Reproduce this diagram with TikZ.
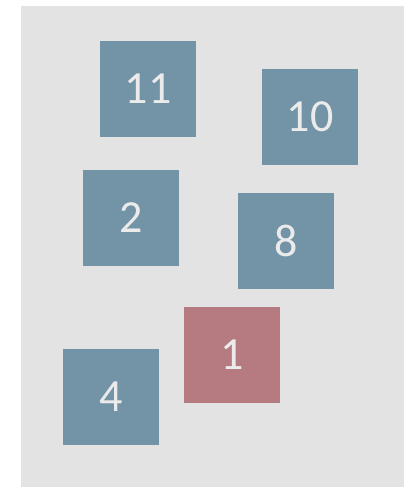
\documentclass[tikz,border=0pt]{standalone}
\usepackage{fontspec}
\setmainfont{Carlito}
\definecolor{bgc}{HTML}{E3E3E3}
\definecolor{bluec}{HTML}{7393A7}
\definecolor{redc}{HTML}{B67B80}
\definecolor{txtc}{HTML}{EBEBEB}
\begin{document}
\begin{tikzpicture}[x=1pt,y=-1pt,
  sq/.style={fill=bluec,draw=none,minimum width=96pt,minimum height=96pt,inner sep=0pt,text=txtc,font=\fontsize{46}{50}\selectfont},
  hl/.style={sq,fill=redc}]
\useasboundingbox (0,0) rectangle (404,487);
\fill[bgc] (21,6) rectangle (404,487);
\node[sq] (n11) at (148,89) {\raisebox{-2pt}{11}};
\node[sq] (n10) at (310,117) {\raisebox{-2pt}{10}};
\node[sq] (n2) at (131,218) {\raisebox{-2pt}{2}};
\node[sq] (n8) at (286,241) {\raisebox{-2pt}{8}};
\node[hl] (n1) at (232,355) {\raisebox{-2pt}{1}};
\node[sq] (n4) at (111,397) {\raisebox{-2pt}{4}};
\end{tikzpicture}
\end{document}
